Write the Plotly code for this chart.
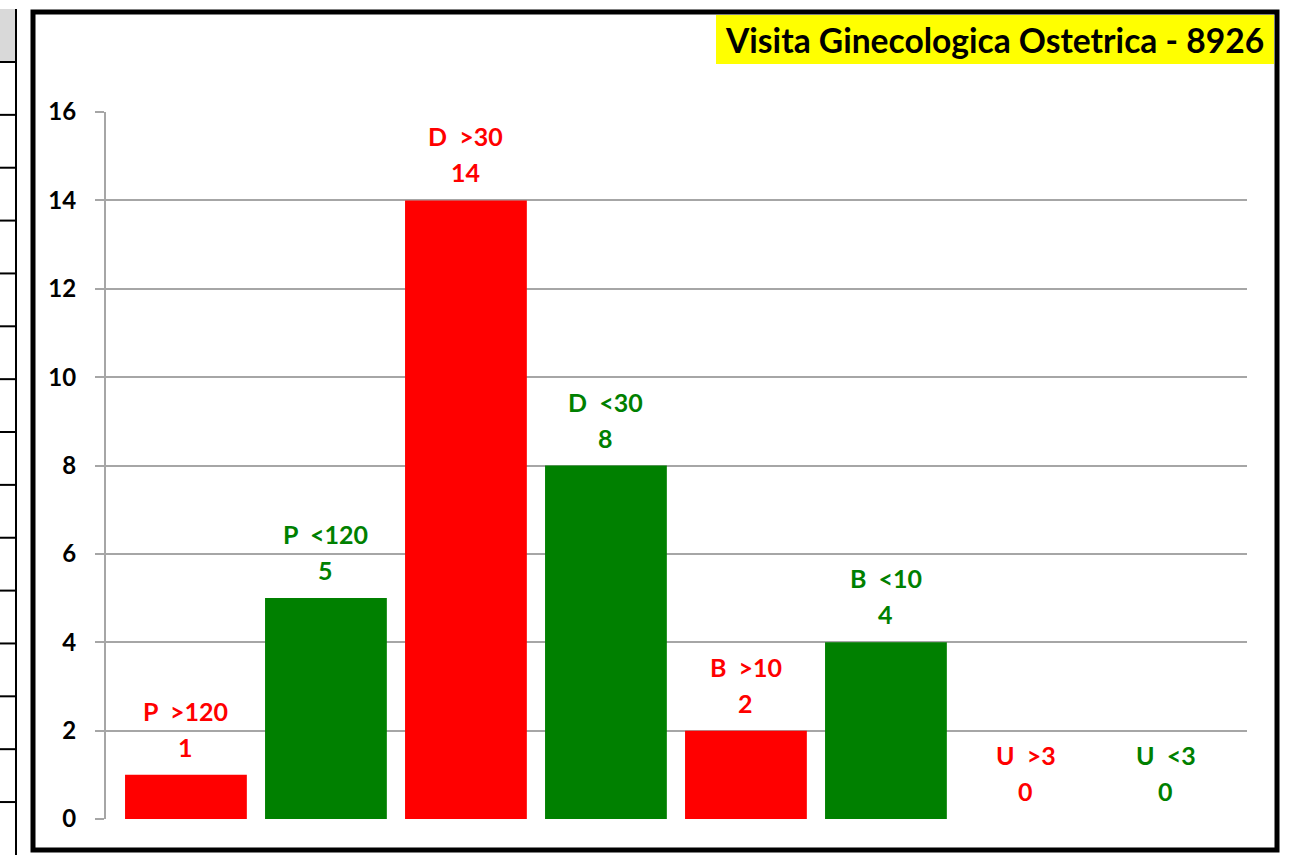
import plotly.graph_objects as go

# ---- data ----
categories = ["P  >120", "P  <120", "D  >30", "D  <30", "B  >10", "B  <10", "U  >3", "U  <3"]
values = [1, 5, 14, 8, 2, 4, 0, 0]
bar_colors = ["#FF0000", "#008000", "#FF0000", "#008000", "#FF0000", "#008000", "#FF0000", "#008000"]
y_ticks = [0, 2, 4, 6, 8, 10, 12, 14, 16]
title_text = "Visita Ginecologica Ostetrica - 8926"

W, H = 1312, 855
ML, MR, MT, MB = 106, 65, 112, 36
PW, PH = W - ML - MR, H - MT - MB
FONT = "Lato"


def px(x):
    return (x - ML) / PW


def py(y):
    return (H - MB - y) / PH


fig = go.Figure()
fig.add_trace(go.Bar(
    x=list(range(len(categories))), y=values,
    marker=dict(color=bar_colors, line=dict(width=0)),
    width=0.87, hoverinfo="skip",
))

annotations = []
for i, (cat, v, c) in enumerate(zip(categories, values, bar_colors)):
    annotations.append(dict(x=i, y=v, xref="x", yref="y", text=cat, showarrow=False,
                            yanchor="middle", yshift=64,
                            font=dict(family=FONT, size=25, color=c, weight="bold")))
    annotations.append(dict(x=i, y=v, xref="x", yref="y", text=str(v), showarrow=False,
                            yanchor="middle", yshift=28,
                            font=dict(family=FONT, size=25, color=c, weight="bold")))

# title
annotations.append(dict(x=px(1266), y=py(40), xref="paper", yref="paper", text=title_text,
                        showarrow=False, xanchor="right", yanchor="middle",
                        font=dict(family=FONT, size=33.6, color="black", weight="bold")))

shapes = []
# yellow title box
shapes.append(dict(type="rect", xref="paper", yref="paper", x0=px(716), x1=px(1274),
                   y0=py(64), y1=py(15), fillcolor="#FFFF00", line=dict(width=0), layer="below"))
# chart frame
shapes.append(dict(type="rect", xref="paper", yref="paper", x0=px(33), x1=px(1277),
                   y0=py(850), y1=py(12), line=dict(color="black", width=5)))
# spreadsheet strip at left
shapes.append(dict(type="rect", xref="paper", yref="paper", x0=px(-2), x1=px(16),
                   y0=py(62), y1=py(9), fillcolor="#D9D9D9", line=dict(width=0), layer="below"))
shapes.append(dict(type="line", xref="paper", yref="paper", x0=px(16), x1=px(16),
                   y0=py(9), y1=py(860), line=dict(color="black", width=2)))
for k in range(15):
    yy = 62 + k * 52.86
    shapes.append(dict(type="line", xref="paper", yref="paper", x0=px(-2), x1=px(16),
                       y0=py(yy), y1=py(yy), line=dict(color="black", width=2)))

fig.update_layout(
    width=W, height=H,
    margin=dict(l=ML, r=MR, t=MT, b=MB, pad=0),
    paper_bgcolor="white", plot_bgcolor="white",
    showlegend=False,
    annotations=annotations, shapes=shapes,
    xaxis=dict(range=[-0.571, 7.579], showticklabels=False, showgrid=False, zeroline=False,
               showline=False, ticks=""),
    yaxis=dict(range=[0, 16], tickvals=y_ticks, showgrid=True, gridcolor="#A6A6A6", gridwidth=2,
               zeroline=False, showline=True, linecolor="#A6A6A6", linewidth=2,
               ticks="outside", ticklen=9, tickcolor="#A6A6A6", tickwidth=2,
               ticklabelstandoff=14,
               tickfont=dict(family=FONT, size=24, color="black", weight="bold")),
)

fig.write_html("out.html",
               config={"displayModeBar": False},
               post_script="document.body.style.margin='0';document.body.style.overflow='hidden';")
